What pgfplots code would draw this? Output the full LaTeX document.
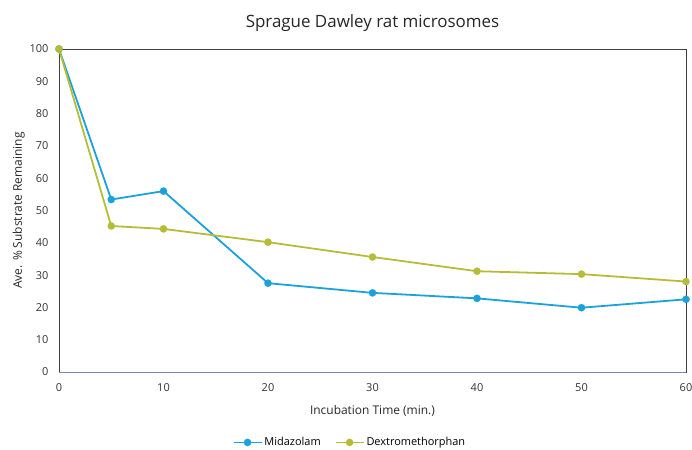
\documentclass[border=0pt]{standalone}
\usepackage{pgfplots}
\pgfplotsset{compat=1.18}
\usepackage{fontspec}
\setmainfont{Open Sans}
\definecolor{midblue}{RGB}{27,161,220}
\definecolor{dexolive}{RGB}{181,189,56}
\definecolor{axisgray}{RGB}{64,64,64}
\definecolor{xaxisblue}{RGB}{120,140,170}
\begin{document}
\begin{tikzpicture}
\useasboundingbox (-59bp,-78bp) rectangle (633bp,372bp);
\begin{axis}[
  at={(0,0)}, anchor=south west,
  scale only axis,
  width=627bp, height=323bp,
  xmin=0, xmax=60, ymin=0, ymax=100,
  xtick={0,10,...,60}, ytick={0,10,...,100},
  major tick length=0pt,
  axis line style={draw=axisgray, line width=0.9pt},
  tick label style={font=\fontsize{11}{13}\selectfont, text=black!80},
  /pgf/number format/assume math mode=true,
  xticklabel style={yshift=-8bp},
  yticklabel style={xshift=-7bp},
  xlabel={Incubation Time (min.)},
  ylabel={Ave. \% Substrate Remaining},
  xlabel style={font=\fontsize{12}{14}\selectfont, text=black!85, yshift=-7bp},
  ylabel style={font=\fontsize{12}{14}\selectfont, text=black!85, yshift=-2bp},
  title={Sprague Dawley rat microsomes},
  title style={font=\fontsize{17}{20}\selectfont, text=black!85, yshift=8bp},
  legend style={at={(0.464,-0.218)}, anchor=center, draw=none, fill=none,
    legend columns=2, font=\fontsize{11}{13}\selectfont,
    /tikz/every even column/.append style={column sep=12bp}},
  legend image code/.code={\draw[mark repeat=2,mark phase=2] plot coordinates {(0bp,0bp) (14bp,0bp) (28bp,0bp)};},
  clip=false,
]
\addplot[color=midblue, line width=1.8pt, mark=*, mark size=3.7pt, mark options={solid, fill=midblue, draw=midblue, line width=0.1pt}]
coordinates {(0,100) (5,53.4) (10,56.0) (20,27.5) (30,24.5) (40,22.8) (50,19.9) (60,22.5)};
\addlegendentry{Midazolam}
\addplot[color=dexolive, line width=1.8pt, mark=*, mark size=3.7pt, mark options={solid, fill=dexolive, draw=dexolive, line width=0.1pt}]
coordinates {(0,100) (5,45.2) (10,44.3) (20,40.2) (30,35.6) (40,31.2) (50,30.3) (60,28.0)};
\addlegendentry{Dextromethorphan}
\draw[xaxisblue, line width=0.9pt] (rel axis cs:0,0) -- (rel axis cs:1,0);
\end{axis}
\end{tikzpicture}
\end{document}
